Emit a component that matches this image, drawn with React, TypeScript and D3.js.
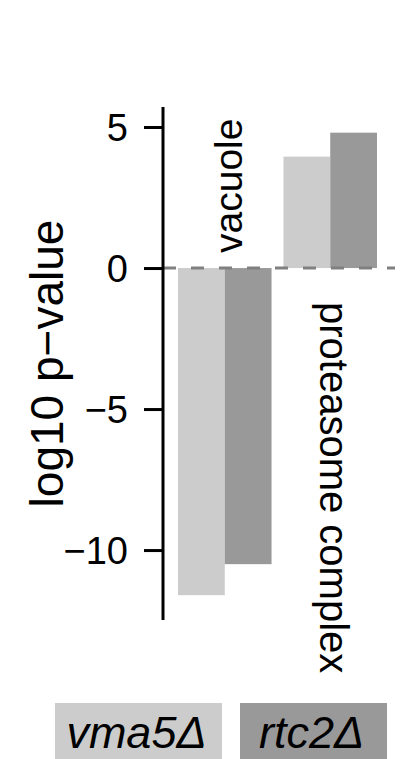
import React, { useEffect, useRef } from "react";
import * as d3 from "d3";

// terms and strains
const terms = ["vacuole", "proteasome complex"];
const strains = ["vma5Δ", "rtc2Δ"];
const vma5Values = [-11.6, 3.95];
const rtc2Values = [-10.5, 4.8];
const yTicks = [5, 0, -5, -10];

const colors = ["#cccccc", "#999999"];
const FONT = "'Liberation Sans', Arial, Helvetica, sans-serif";

const App: React.FC = () => {
  const svgRef = useRef<SVGSVGElement>(null);

  useEffect(() => {
    if (!svgRef.current) return;
    const width = 403;
    const height = 759;

    const svg = d3.select(svgRef.current);
    svg.selectAll("*").remove();
    svg.attr("width", width).attr("height", height);

    const axisX = 163;
    const y = d3.scaleLinear().domain([-12.48, 5.71]).range([620, 107]);

    const x0 = d3
      .scaleBand<string>()
      .domain(terms)
      .range([178, 377])
      .paddingInner(0.113)
      .paddingOuter(0);
    const x1 = d3
      .scaleBand<string>()
      .domain(strains)
      .range([0, x0.bandwidth()]);
    const color = d3.scaleOrdinal<string>().domain(strains).range(colors);

    const rows = terms.map((t, i) => ({
      term: t,
      values: [
        { strain: strains[0], value: vma5Values[i] },
        { strain: strains[1], value: rtc2Values[i] },
      ],
    }));

    // bars
    const groups = svg
      .append("g")
      .selectAll("g")
      .data(rows)
      .enter()
      .append("g")
      .attr("transform", (d) => `translate(${x0(d.term)},0)`);

    groups
      .selectAll("rect")
      .data((d) => d.values)
      .enter()
      .append("rect")
      .attr("x", (d) => x1(d.strain)!)
      .attr("width", x1.bandwidth())
      .attr("y", (d) => y(Math.max(0, d.value)))
      .attr("height", (d) => Math.abs(y(d.value) - y(0)))
      .attr("fill", (d) => color(d.strain));

    // zero line
    svg
      .append("line")
      .attr("x1", axisX)
      .attr("x2", 395)
      .attr("y1", y(0))
      .attr("y2", y(0))
      .attr("stroke", "#808080")
      .attr("stroke-width", 3)
      .attr("stroke-dasharray", "13 15");

    // y axis
    const axis = svg
      .append("g")
      .attr("transform", `translate(${axisX},0)`)
      .call(d3.axisLeft(y).tickValues(yTicks).tickSize(19).tickPadding(16));
    axis.select(".domain").remove();
    axis
      .append("line")
      .attr("y1", y.range()[1])
      .attr("y2", y.range()[0])
      .attr("stroke", "#000")
      .attr("stroke-width", 3);
    axis.selectAll(".tick line").attr("stroke", "#000").attr("stroke-width", 3);
    axis
      .selectAll(".tick text")
      .attr("fill", "#000")
      .style("font-family", FONT)
      .style("font-size", "38px")
      .attr("dy", "0.36em");

    // y label
    svg
      .append("text")
      .attr("transform", `translate(63,${(220 + 507) / 2}) rotate(-90)`)
      .attr("text-anchor", "middle")
      .style("font-family", FONT)
      .style("font-size", "46px")
      .text("log10 p\u2212value");

    // term labels
    svg
      .append("text")
      .attr("transform", `translate(242,253) rotate(-90)`)
      .style("font-family", FONT)
      .style("font-size", "39px")
      .text(terms[0]);
    svg
      .append("text")
      .attr("transform", `translate(320,302) rotate(90)`)
      .style("font-family", FONT)
      .style("font-size", "40px")
      .text(terms[1]);

    // legend boxes
    const legendBoxes = [
      { x: 55, w: 167 },
      { x: 240, w: 147 },
    ];
    const legend = svg
      .append("g")
      .selectAll("g")
      .data(strains)
      .enter()
      .append("g")
      .attr("transform", (_d, i) => `translate(${legendBoxes[i].x},703)`);
    legend
      .append("rect")
      .attr("width", (_d, i) => legendBoxes[i].w)
      .attr("height", 60)
      .attr("fill", (d) => color(d));
    legend
      .append("text")
      .attr("x", (_d, i) => legendBoxes[i].w / 2 - 2)
      .attr("y", 45)
      .attr("text-anchor", "middle")
      .style("font-family", FONT)
      .style("font-size", "45px")
      .style("font-style", "italic")
      .text((d) => d);
  }, []);

  return (
    <svg
      ref={svgRef}
      style={{ position: "absolute", left: 0, top: 0, background: "#fff" }}
    />
  );
};

export default App;
